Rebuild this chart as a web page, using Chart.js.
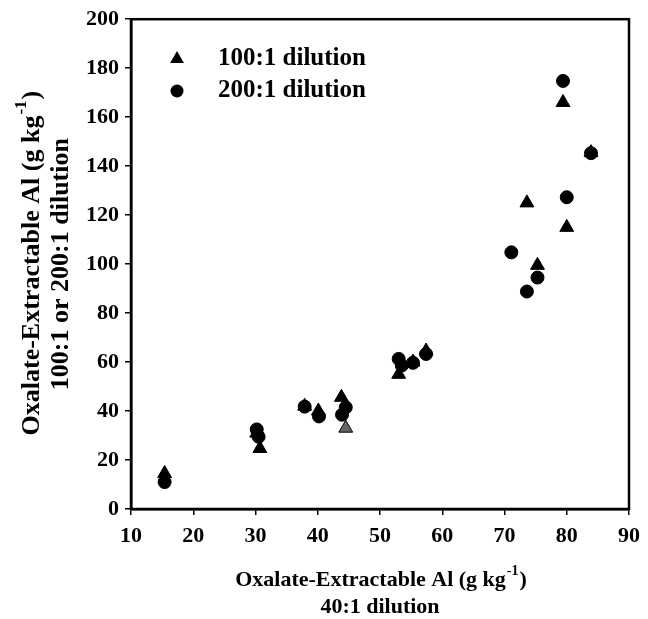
<!DOCTYPE html>
<html>
<head>
<meta charset="utf-8">
<script src="https://cdn.jsdelivr.net/npm/chart.js@4/dist/chart.umd.min.js"></script>
<style>
  html, body { margin: 0; padding: 0; background: #fff; }
  #wrap { width: 648px; height: 619px; }
</style>
</head>
<body>
<div id="wrap"><canvas id="myChart" width="648" height="619"></canvas></div>
<script>
// 40:1 dilution (x) against 100:1 dilution (triangles)
var triX = [15.4, 30.2, 30.7, 37.9, 40.1, 43.8, 44.5, 53.0, 55.3, 57.4, 73.6, 75.3, 79.4, 80.0, 83.9];
var triY = [14.5, 31.0, 24.7, 42.0, 40.0, 45.6, 33.0, 55.0, 60.0, 64.5, 125.0, 99.5, 166.0, 115.0, 145.5];

// 40:1 dilution (x) against 200:1 dilution (circles)
var cirX = [15.4, 30.2, 30.5, 37.9, 40.2, 43.9, 44.5, 53.0, 53.5, 55.3, 57.4, 71.1, 73.6, 75.3, 79.4, 80.0, 83.9];
var cirY = [11.0, 32.5, 29.5, 41.8, 37.8, 38.5, 41.5, 61.3, 58.6, 59.7, 63.3, 104.8, 88.8, 94.5, 174.8, 127.3, 145.3];

var seriesNames = ["100:1 dilution", "200:1 dilution"];
var xTitle = ["Oxalate-Extractable Al (g kg", "-1", ")", "40:1 dilution"];
var yTitle = ["Oxalate-Extractable Al (g kg", "-1", ")", "100:1 or 200:1 dilution"];

function toPoints(xs, ys) {
    return xs.map(function (x, i) { return { x: x, y: ys[i] }; });
}

var serif = "'Liberation Serif', 'Times New Roman', serif";

// draw "main" + superscript + tail, centred on (x, y)
function supText(ctx, x, y, main, sup, tail, size) {
    var small = Math.round(size * 0.64);
    ctx.font = "bold " + size + "px " + serif;
    var w1 = ctx.measureText(main).width;
    var w3 = ctx.measureText(tail).width;
    ctx.font = "bold " + small + "px " + serif;
    var w2 = ctx.measureText(sup).width;
    var left = x - (w1 + w2 + w3) / 2;
    ctx.textAlign = 'left';
    ctx.textBaseline = 'middle';
    ctx.font = "bold " + size + "px " + serif;
    ctx.fillText(main, left, y);
    ctx.font = "bold " + small + "px " + serif;
    ctx.fillText(sup, left + w1 + 1, y - size * 0.4);
    ctx.font = "bold " + size + "px " + serif;
    ctx.fillText(tail, left + w1 + w2 + 2, y);
}

var overlay = {
    id: 'overlay',
    afterDraw: function (chart) {
        var ctx = chart.ctx, a = chart.chartArea;
        ctx.save();
        ctx.strokeStyle = '#000';
        ctx.lineWidth = 2.5;
        ctx.strokeRect(a.left, a.top, a.right - a.left, a.bottom - a.top);

        ctx.fillStyle = '#000';
        // x title
        var cx = (a.left + a.right) / 2;
        supText(ctx, cx, 580, xTitle[0], xTitle[1], xTitle[2], 22);
        ctx.font = "bold 22px " + serif;
        ctx.textAlign = 'center';
        ctx.fillText(xTitle[3], cx, 607);

        // y title, rotated
        var cy = (a.top + a.bottom) / 2;
        ctx.save();
        ctx.translate(32, cy);
        ctx.rotate(-Math.PI / 2);
        supText(ctx, 0, 0, yTitle[0], yTitle[1], yTitle[2], 26);
        ctx.restore();
        ctx.save();
        ctx.translate(61, cy);
        ctx.rotate(-Math.PI / 2);
        ctx.font = "bold 26px " + serif;
        ctx.textAlign = 'center';
        ctx.textBaseline = 'middle';
        ctx.fillText(yTitle[3], 0, 0);
        ctx.restore();

        // legend
        var styles = ['triangle', 'circle'];
        var radii = [8, 6.5];
        for (var i = 0; i < 2; i++) {
            var ly = 59 + i * 32;
            ctx.fillStyle = '#000';
            ctx.strokeStyle = '#000';
            ctx.lineWidth = 1;
            Chart.helpers.drawPoint(ctx, { pointStyle: styles[i], radius: radii[i], rotation: 0 }, 177, ly);
            ctx.font = "bold 25px " + serif;
            ctx.textAlign = 'left';
            ctx.textBaseline = 'middle';
            ctx.fillText(seriesNames[i], 218, ly);
        }
        ctx.restore();
    }
};

var ctx = document.getElementById('myChart').getContext('2d');
var chart = new Chart(ctx, {
    type: 'scatter',
    data: {
        datasets: [
            {
                label: seriesNames[1],
                data: toPoints(cirX, cirY),
                pointStyle: 'circle',
                pointRadius: 6.5,
                backgroundColor: '#000',
                borderColor: '#000',
                borderWidth: 1
            },
            {
                label: seriesNames[0],
                data: toPoints(triX, triY),
                pointStyle: 'triangle',
                pointRadius: 8,
                backgroundColor: triX.map(function (x, i) { return i === 6 ? '#666' : '#000'; }),
                borderColor: '#000',
                borderWidth: 1
            }
        ]
    },
    options: {
        responsive: false,
        animation: false,
        layout: { padding: { top: 17, right: 13, left: 0, bottom: 0 } },
        plugins: {
            legend: { display: false },
            tooltip: { enabled: false }
        },
        scales: {
            x: {
                type: 'linear',
                min: 10,
                max: 90,
                afterFit: function (s) { s.height = 110; },
                ticks: {
                    stepSize: 10,
                    color: '#000',
                    padding: 8,
                    maxRotation: 0,
                    font: { family: serif, size: 22, weight: 'bold' }
                },
                grid: { drawOnChartArea: false, drawTicks: true, tickLength: 6, color: '#000', lineWidth: 1.5 },
                border: { display: true, color: '#000', width: 2.5 }
            },
            y: {
                min: 0,
                max: 200,
                afterFit: function (s) { s.width = 131; },
                ticks: {
                    stepSize: 20,
                    color: '#000',
                    padding: 6,
                    font: { family: serif, size: 22, weight: 'bold' }
                },
                grid: { drawOnChartArea: false, drawTicks: true, tickLength: 6, color: '#000', lineWidth: 1.5 },
                border: { display: true, color: '#000', width: 2.5 }
            }
        }
    },
    plugins: [overlay]
});
</script>
</body>
</html>
